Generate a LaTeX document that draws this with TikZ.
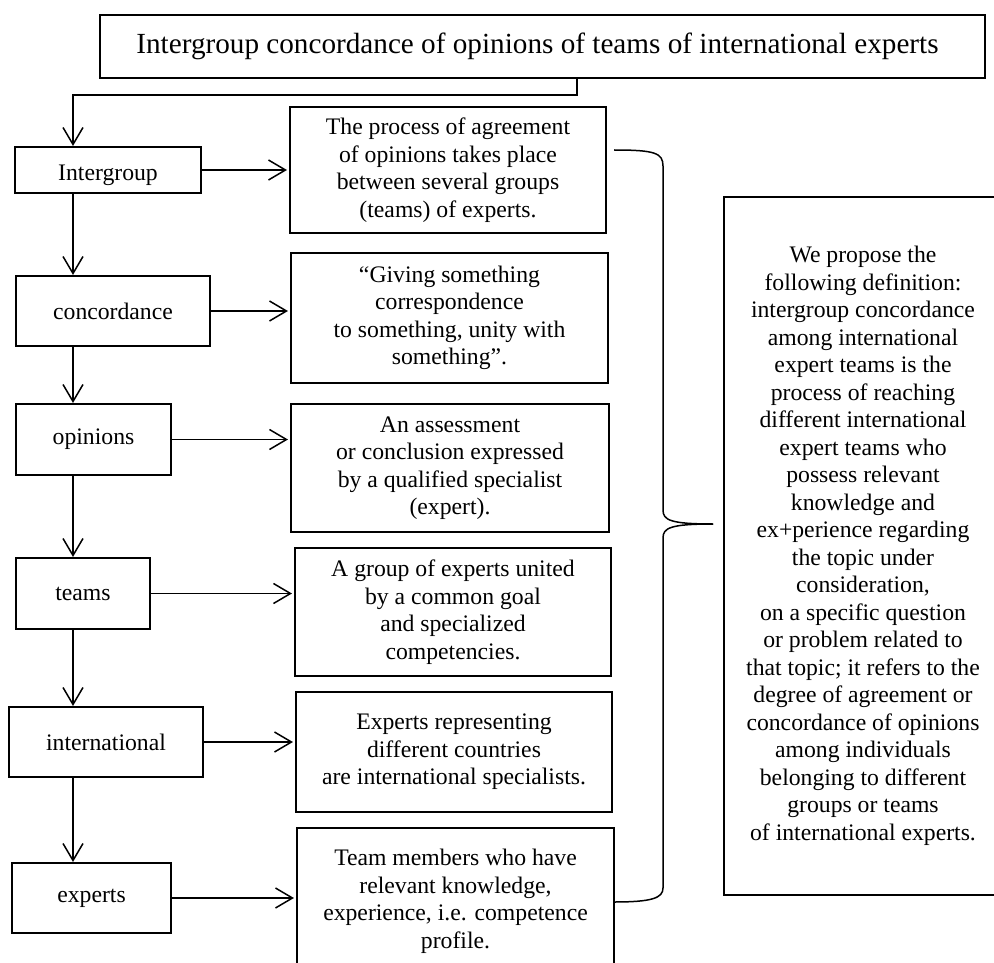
\documentclass[tikz,border=0pt]{standalone}
\usepackage{fontspec}
\setmainfont{Liberation Serif}
\usetikzlibrary{arrows.meta}
\newcommand{\deffont}{\fontsize{23.7}{27.5}\selectfont}
\newcommand{\titlefont}{\fontsize{29.2}{33}\selectfont}
\begin{document}
\begin{tikzpicture}[x=1pt,y=-1pt,
  box/.style={draw, line width=2.1pt, inner sep=0pt, align=center, font=\deffont},
  arr/.style={line width=1.5pt, -{Straight Barb[length=17pt,width=20pt,line width=1.5pt]}},
  link/.style={line width=1.5pt}]
\useasboundingbox (0,0) rectangle (994,963);
% title
\node[box, font=\titlefont, minimum width=885pt, minimum height=63pt] (title) at (542.5,46.5)
  {Intergroup concordance of opinions of teams of international experts\hspace*{10pt}};
% left column
\node[box, minimum width=186pt, minimum height=46pt, text height=22pt, text depth=0pt] (ig) at (108,170) {Intergroup};
\node[box, minimum width=194pt, minimum height=70pt] (cc) at (113,311) {concordance};
\node[box, minimum width=155pt, minimum height=71pt] (op) at (93.5,439.5) {opinions};
\node[box, minimum width=134pt, minimum height=71pt] (tm) at (83,593.5) {teams};
\node[box, minimum width=194pt, minimum height=70pt] (in) at (106,742) {international};
\node[box, minimum width=159pt, minimum height=70pt] (ex) at (91.5,898) {experts};
% definitions
\node[box, minimum width=316pt, minimum height=126pt] (d1) at (448,170)
  {The process of agreement\\of opinions takes place\\between several groups\\(teams) of experts.};
\node[box, minimum width=317pt, minimum height=130pt] (d2) at (449.5,318)
  {“Giving something\\correspondence\\to something, unity with\\something”.};
\node[box, minimum width=318pt, minimum height=128pt] (d3) at (450,468)
  {An assessment\\or conclusion expressed\\by a qualified specialist\\(expert).};
\node[box, minimum width=316pt, minimum height=128pt] (d4) at (453,612)
  {A group of experts united\\by a common goal\\and specialized\\competencies.};
\node[box, minimum width=316pt, minimum height=120pt] (d5) at (454,752)
  {Experts representing\\different countries\\are international specialists.};
\node[box, minimum width=317pt, minimum height=147pt] (d6) at (455.5,901.5)
  {Team members who have\\relevant knowledge,\\experience, i.e. competence\\profile.};
% right box
\node[box, minimum width=278pt, minimum height=698pt] (rt) at (863,546)
  {We propose the\\following definition:\\intergroup concordance\\among international\\expert teams is the\\process of reaching\\different international\\expert teams who\\possess relevant\\knowledge and\\ex+perience regarding\\the topic under\\consideration,\\on a specific question\\or problem related to\\that topic; it refers to the\\degree of agreement or\\concordance of opinions\\among individuals\\belonging to different\\groups or teams\\of international experts.};
% connectors
\coordinate (col) at (73,0);
\coordinate (tcol) at (577,95);
\draw[arr] (title.south -| tcol) -- (tcol) -| (ig.north -| col);
\draw[arr] (ig.south -| col) -- (cc.north -| col);
\draw[arr] (cc.south -| col) -- (op.north -| col);
\draw[arr] (op.south -| col) -- (tm.north -| col);
\draw[arr] (tm.south -| col) -- (in.north -| col);
\draw[arr] (in.south -| col) -- (ex.north -| col);
\draw[arr, shorten >=2pt] (ig.east) -- (ig.east -| d1.west);
\draw[arr, shorten >=2pt] (cc.east) -- (cc.east -| d2.west);
\draw[arr, shorten >=2pt] (op.east) -- (op.east -| d3.west);
\draw[arr, shorten >=2pt] (tm.east) -- (tm.east -| d4.west);
\draw[arr, shorten >=2pt] (in.east) -- (in.east -| d5.west);
\draw[arr, shorten >=2pt] (ex.east) -- (ex.east -| d6.west);
% brace
\draw[link] (614,150) .. controls (655,150) and (663,153) .. (663,166) -- (663,510)
  .. controls (663,520) and (670,524) .. (713,524);
\draw[link] (713,524) .. controls (670,524) and (663,528) .. (663,538) -- (663,888)
  .. controls (663,898) and (652,902) .. (614,902);
\end{tikzpicture}
\end{document}
